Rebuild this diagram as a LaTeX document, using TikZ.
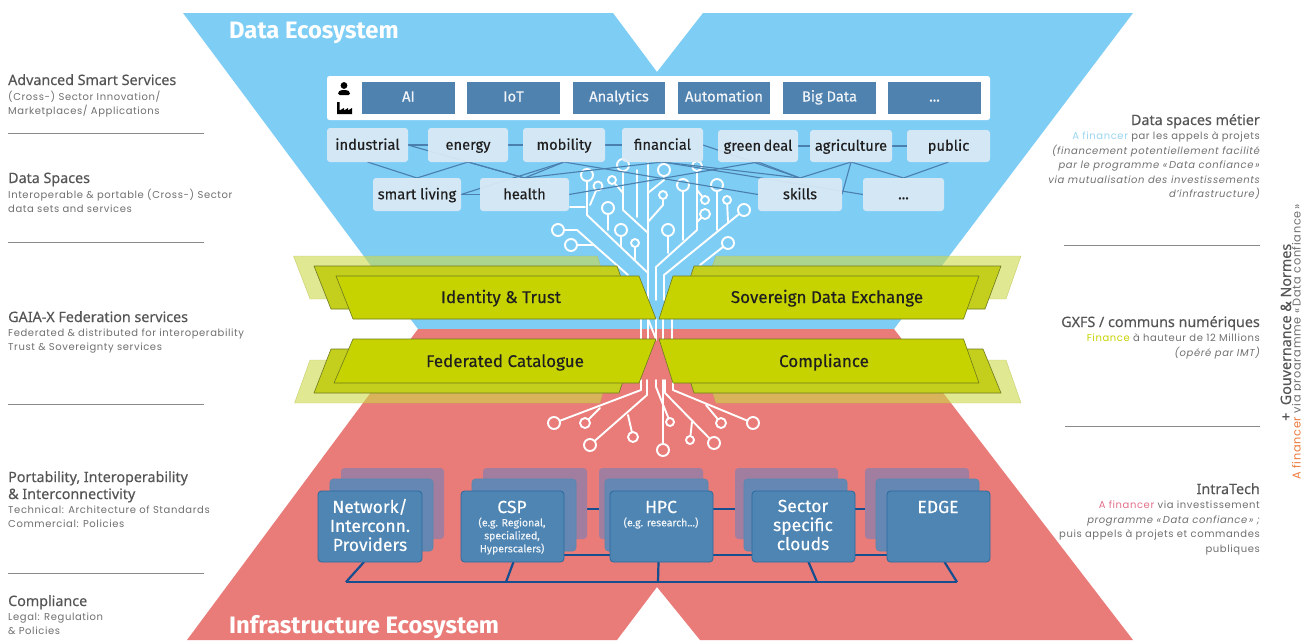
\documentclass[tikz,border=0pt]{standalone}
\usepackage{fontspec}
\setmainfont{Fira Sans}
\newfontfamily\titf[FakeBold=0.25]{Noto Sans}
\newfontfamily\subf[LetterSpace=6]{Poppins}
\newfontfamily\diaf[FakeBold=0.35]{Fira Sans}
\newfontfamily\ecof{Fira Sans}
\pgfdeclarelayer{back}
\pgfdeclarelayer{conn}
\pgfsetlayers{back,conn,main}
\definecolor{bluebg}{HTML}{7ECDF5}
\definecolor{redbg}{HTML}{E97B78}
\definecolor{plateA}{HTML}{C6D300}
\definecolor{plateB}{HTML}{C4CE1C}
\definecolor{plateC}{HTML}{CDD94A}
\definecolor{plateE}{HTML}{6E7A20}
\definecolor{tile}{HTML}{4F82AE}
\definecolor{pale}{HTML}{DCEAF5}
\definecolor{conline}{HTML}{4A7FAE}
\definecolor{bus}{HTML}{154F8F}
\definecolor{boxA}{HTML}{4E85B3}
\definecolor{boxB}{HTML}{6487B4}
\definecolor{boxC}{HTML}{A17D9F}
\definecolor{boxE}{HTML}{2A6A9E}
\definecolor{greytx}{HTML}{707070}
\definecolor{titletx}{HTML}{555555}
\definecolor{rulec}{HTML}{8A8A8A}
\definecolor{finblue}{HTML}{9BD6F2}
\definecolor{fingreen}{HTML}{C6D300}
\definecolor{finred}{HTML}{E4708A}
\definecolor{finorange}{HTML}{EE7B3C}
\tikzset{
  plA/.style={fill=plateA,draw=plateE,line width=.6pt,line join=round},
  plB/.style={fill=plateB,draw=plateE,line width=.6pt,line join=round},
  plC/.style={fill=plateC,draw=plateC!85!black,fill opacity=.6,draw opacity=.6,line width=.4pt,line join=round},
  platetxt/.style={font=\diaf\fontsize{17}{18}\selectfont,text=black!88,inner sep=0pt,text height=12pt,text depth=4pt},
  tilebox/.style={fill=tile,inner sep=0pt,outer sep=0pt,font=\diaf\fontsize{14.7}{16}\selectfont,text=white!92!tile,text height=10.5pt,text depth=3pt},
  whitebar/.style={fill=white,rounded corners=2.5pt,inner sep=0pt,outer sep=0pt},
  palebox/.style={fill=pale,fill opacity=.92,rounded corners=3pt,inner sep=0pt,outer sep=0pt,text opacity=1,font=\diaf\fontsize{14.7}{17}\selectfont,text=black!88,text height=12pt,text depth=2.5pt},
  con/.style={draw=conline,line width=1.1pt},
  buswire/.style={draw=bus,line width=2.2pt,line join=miter},
  fr/.style={fill=boxA,draw=boxE,line width=.8pt,rounded corners=3.5pt,inner sep=0pt,outer sep=0pt},
  ba/.style={fill=boxB,draw=boxE!80,line width=.6pt,rounded corners=3.5pt,inner sep=0pt,outer sep=0pt},
  bb/.style={fill=boxC,rounded corners=3.5pt,inner sep=0pt,outer sep=0pt},
  boxtx/.style={font=\diaf\fontsize{17.5}{19}\selectfont,text=white,align=center,inner sep=0pt},
  boxsm/.style={font=\diaf\fontsize{10.5}{13}\selectfont,text=white!90!boxA,align=center,inner sep=0pt},
  eco/.style={font=\ecof\fontsize{23.8}{26}\selectfont\bfseries,text=white,anchor=base west,inner sep=0pt},
  lt/.style={anchor=base west,inner sep=0pt,font=\titf\fontsize{14.3}{16}\selectfont,text=titletx},
  ls/.style={anchor=base west,inner sep=0pt,font=\subf\fontsize{10}{12}\selectfont,text=greytx},
  rt/.style={anchor=base east,inner sep=0pt,font=\titf\fontsize{14.3}{16}\selectfont,text=titletx},
  rs/.style={anchor=base east,inner sep=0pt,font=\subf\fontsize{10}{12}\selectfont,text=greytx},
  rulel/.style={draw=rulec,line width=.9pt},
  tr/.style={draw=white,line width=1.9pt,line join=round,line cap=round},
}
\newcommand\bx[6]{\node[#6,minimum width={(#4-#2)*1pt},minimum height={(#5-#3)*1pt}] (#1) at ({(#2+#4)/2},{(#3+#5)/2}) {};}
\newcommand\tb[7]{\node[#6,minimum width={(#4-#2)*1pt},minimum height={(#5-#3)*1pt}] (#1) at ({(#2+#4)/2},{(#3+#5)/2}) {#7};}
\newcommand\lfb[4]{\draw[tr] #1 -- (#2,#3); \draw[tr,fill=bluebg] (#2,#3) circle (#4pt);}
\newcommand\lfr[4]{\draw[tr] #1 -- (#2,#3); \draw[tr,fill=redbg] (#2,#3) circle (#4pt);}
\begin{document}
\begin{tikzpicture}[x=1pt,y=-1pt]
\useasboundingbox (0,0) rectangle (1301,640);
\clip (0,0) rectangle (1301,640);
\begin{pgfonlayer}{back}
\fill[white] (0,0) rectangle (1301,640);
% ecosystems
\fill[bluebg] (183,13) -- (613,13) -- (657,72) -- (703,13) -- (1133,13) -- (894,329) -- (418,329) -- cycle;
\fill[redbg] (418,329) -- (894,329) -- (1133,640) -- (700,640) -- (657,587) -- (617,640) -- (187,640) -- cycle;
% tree, blue part
\draw[tr] (648,300) -- (648,163);
\lfb{(648,273) -- (587,215)}{587}{175}{6}
\draw[tr] (585,207) -- (570,207);
\lfb{(590,205)}{598}{186}{4.5}
\lfb{(608,230)}{608}{208}{6}
\lfb{(621,247)}{621}{230}{6}
\lfb{(635,260)}{635}{243}{4}
\lfb{(648,233) -- (623,210)}{623}{165}{6}
\lfb{(623,193)}{612}{180}{4}
\draw[tr] (637,217) -- (637,170);
\lfb{(628,275) -- (577,230)}{558}{230}{6}
\lfb{(593,245)}{571}{245}{6}
\lfb{(656,300) -- (656,267) -- (697,230)}{697}{166}{5}
\lfb{(697,190)}{705}{200}{4}
\lfb{(697,222)}{705}{214}{5}
\lfb{(683,240)}{683}{185}{6}
\lfb{(668,253)}{668}{230}{6}
\lfb{(664,300) -- (664,275)}{744}{210}{6}
\lfb{(728,222)}{727}{200}{4}
\lfb{(717,230)}{717}{185}{6}
\lfb{(700,265)}{728}{243}{6}
\lfb{(648,222) -- (663,205)}{663}{195}{4}
\lfb{(648,193) -- (664,180)}{664}{170}{6}
% tree, between plates
\draw[tr] (641,319) -- (641,340);
\draw[tr] (648,319) -- (648,340);
\draw[tr] (656,319) -- (656,340);
\draw[tr] (663,319) -- (663,340);
\draw[tr] (672,319) -- (672,340);
\draw[tr] (648,319) -- (656,339);
% tree, red part
\lfr{(641,380) -- (641,390)}{554}{423}{6}
\lfr{(600,408)}{585}{423}{5}
\lfr{(647,380) -- (647,395)}{590}{445}{6}
\lfr{(628,415)}{633}{437}{5}
\lfr{(663,380)}{663}{450}{6}
\lfr{(656,380) -- (656,387)}{670}{422}{4}
\lfr{(665,380) -- (665,393)}{714}{443}{6}
\lfr{(692,422)}{690}{440}{4}
\lfr{(673,380) -- (673,390)}{753}{423}{6}
\lfr{(706,405)}{721}{423}{5}
% plates
\draw[plC] (293.5,256) -- (597.5,256) -- (610,299) -- (310,299) -- cycle;
\draw[plB] (314,266) -- (617,266) -- (632,309) -- (331,309) -- cycle;
\draw[plA] (336,276) -- (639,276) -- (656,319) -- (353,319) -- cycle;
\draw[plC] (1021,256) -- (716,256) -- (700,299) -- (1006,299) -- cycle;
\draw[plB] (1001,266) -- (694,266) -- (680,309) -- (985,309) -- cycle;
\draw[plA] (979,276) -- (673,276) -- (659,319) -- (963.5,319) -- cycle;
\draw[plC] (310,360) -- (612,360) -- (600,403) -- (294.5,403) -- cycle;
\draw[plB] (331,349) -- (634,349) -- (619,393) -- (314,393) -- cycle;
\draw[plA] (353,339) -- (656,339) -- (639,383) -- (334,383) -- cycle;
\draw[plC] (1006,360) -- (702,360) -- (716,403) -- (1021,403) -- cycle;
\draw[plB] (983,349) -- (680,349) -- (694,393) -- (1001,393) -- cycle;
\draw[plA] (963.5,339) -- (659,339) -- (673,383) -- (979,383) -- cycle;
\end{pgfonlayer}
% plate labels
\node[platetxt] (ident) at (501,299) {Identity \& Trust};
\node[platetxt] (sover) at (827,299) {Sovereign Data Exchange};
\node[platetxt] (feder) at (505,363) {Federated Catalogue};
\node[platetxt] (compl) at (824,363) {Compliance};
% ecosystem titles
\node[eco] (dataeco) at (229,38) {Data Ecosystem};
\node[eco] (infraeco) at (229,633) {Infrastructure Ecosystem};
% service bar
\bx{bar}{327}{76}{990}{120}{whitebar}
\tb{ai}{362}{82}{455}{113.5}{tilebox}{AI}
\tb{iot}{467}{82}{560}{113.5}{tilebox}{IoT}
\tb{ana}{573}{82}{665}{113.5}{tilebox}{Analytics}
\tb{auto}{678}{82}{770}{113.5}{tilebox}{Automation}
\tb{big}{783}{82}{876}{113.5}{tilebox}{Big Data}
\tb{more}{888}{82}{981}{113.5}{tilebox}{...}
\fill[black] (344,85.5) circle (3.4pt);
\fill[black,rounded corners=1.5pt] (338,95) -- (338,92) -- (341,90) -- (347,90) -- (350,92) -- (350,95) -- cycle;
\fill[black] (337,102) -- (339.5,102) -- (339.5,110.5) -- (344,108) -- (344,110.5) -- (348,108) -- (348,110.5) -- (352,108) -- (352,114) -- (337,114) -- cycle;
% data spaces
\tb{industrial}{327}{128}{408}{162}{palebox}{industrial}
\tb{energy}{428}{128}{508}{162}{palebox}{energy}
\tb{mobility}{523}{128}{605}{162}{palebox}{mobility}
\tb{financial}{622}{128}{703}{162}{palebox}{financial}
\tb{greendeal}{718}{130}{798}{162}{palebox}{green\,deal}
\tb{agri}{810}{130}{892}{162}{palebox}{agriculture}
\tb{public}{907}{130}{990}{162}{palebox}{public}
\tb{smart}{373}{178}{461}{211}{palebox}{smart living}
\tb{health}{480}{178}{569}{211}{palebox}{health}
\tb{skills}{758}{178}{842}{211}{palebox}{skills}
\tb{dots}{863}{178}{944}{211}{palebox}{...}
\begin{pgfonlayer}{conn}
\draw[con] (industrial.east) -- (energy.west);
\draw[con] (energy.east) -- (mobility.west);
\draw[con] (mobility.east) -- (financial.west);
\draw[con] (greendeal.east) -- (agri.west);
\draw[con] (agri.east) -- (public.west);
\draw[con] (smart.east) -- (health.west);
\draw[con] (industrial.south) -- (smart.north);
\draw[con] (energy.south) -- (smart.north);
\draw[con] (energy.south) -- (health.north);
\draw[con] (industrial.east) -- (health.north);
\draw[con] (mobility.south) -- (health.north);
\draw[con] (smart.east) -- (mobility.south);
\draw[con] (health.east) -- (greendeal.south);
\draw[con] (mobility.south) -- (skills.west);
\draw[con] (financial.south) -- (skills.north);
\draw[con] (financial.east) -- (skills.north);
\draw[con] (greendeal.south) -- (skills.north);
\draw[con] (agri.south) -- (skills.north);
\draw[con] (agri.south) -- (skills.east);
\draw[con] (agri.south) -- (dots.north);
\draw[con] (public.south) -- (dots.north);
\draw[con] (financial.south) -- (dots.west);
\draw[con] (health.north) -- (financial.south);
% infrastructure wiring
\coordinate (busl) at (346,582);
\coordinate (busr) at (957,582);
\coordinate (buscsp) at (506,582);
\coordinate (bushpc) at (658,582);
\coordinate (bussec) at (817,582);
\end{pgfonlayer}
% infrastructure boxes
\bx{netc}{341}{468}{444}{539}{bb}
\bx{netb}{330}{479}{433}{551}{ba}
\bx{net}{318}{491}{422}{562}{fr}
\bx{cspc}{483}{468}{587}{539}{bb}
\bx{cspb}{472}{479}{576}{551}{ba}
\bx{csp}{461}{491}{564}{562}{fr}
\bx{hpcc}{599}{468}{703}{539}{bb}
\bx{hpcb}{605}{479}{708}{551}{ba}
\bx{hpc}{610}{491}{713}{562}{fr}
\bx{secc}{735}{468}{838}{539}{bb}
\bx{secb}{744}{479}{847}{551}{ba}
\bx{sec}{752}{491}{855}{562}{fr}
\bx{edgc}{865}{468}{969}{539}{bb}
\bx{edgb}{876}{479}{979}{551}{ba}
\bx{edg}{887}{491}{990}{562}{fr}
\begin{pgfonlayer}{conn}
\draw[buswire] (busl) -- (busr);
\draw[buswire] ([xshift=-6pt]net.south) -- (busl);
\draw[buswire] ([xshift=1pt]csp.south) -- (buscsp);
\draw[buswire] ([xshift=-3pt]hpc.south) -- (bushpc);
\draw[buswire] ([xshift=5pt]sec.south) -- (bussec);
\draw[buswire] ([xshift=6pt]edg.south) -- (busr);
\draw[buswire] ([yshift=-28.5pt]csp.east) -- ([yshift=-28.5pt]hpc.west);
\draw[buswire] ([yshift=17.5pt]csp.east) -- ([yshift=17.5pt]hpc.west);
\draw[buswire] ([yshift=-28.5pt]hpc.east) -- ([yshift=-28.5pt]sec.west);
\draw[buswire] ([yshift=17.5pt]hpc.east) -- ([yshift=17.5pt]sec.west);
\draw[buswire] ([yshift=-28.5pt]sec.east) -- ([yshift=-28.5pt]edg.west);
\draw[buswire] ([yshift=17.5pt]sec.east) -- ([yshift=17.5pt]edg.west);
\end{pgfonlayer}
\node[boxtx] (nett) at (370,525) {Network/\\Interconn.\\Providers};
\node[boxtx] (cspt) at (512,507) {CSP};
\node[boxsm] (csps) at (512,536) {(e.g. Regional,\\specialized,\\Hyperscalers)};
\node[boxtx] (hpct) at (661,507) {HPC};
\node[boxsm] (hpcs) at (661,523) {(e.g. research...)};
\node[boxtx] (sect) at (803,525) {Sector\\specific\\clouds};
\node[boxtx] (edgt) at (938,507) {EDGE};
% left column
\node[lt] (l1) at (8,85) {Advanced Smart Services};
\node[ls] (l1a) at (8,100) {(Cross-) Sector Innovation/};
\node[ls] (l1b) at (8,114) {Marketplaces/ Applications};
\draw[rulel] (8,133) -- (204,133);
\node[lt] (l2) at (8,183) {Data Spaces};
\node[ls] (l2a) at (8,198) {Interoperable \& portable (Cross-) Sector};
\node[ls] (l2b) at (8,212) {data sets and services};
\draw[rulel] (8,242) -- (204,242);
\node[lt] (l3) at (8,322) {GAIA-X Federation services};
\node[ls] (l3a) at (8,336) {Federated \& distributed for interoperability};
\node[ls] (l3b) at (8,350) {Trust \& Sovereignty services};
\draw[rulel] (8,404) -- (204,404);
\node[lt] (l4) at (8,482) {Portability, Interoperability};
\node[lt] (l4x) at (8,499) {\& Interconnectivity};
\node[ls] (l4a) at (8,513) {Technical: Architecture of Standards};
\node[ls] (l4b) at (8,527) {Commercial: Policies};
\draw[rulel] (8,573) -- (204,573);
\node[lt] (l5) at (8,606) {Compliance};
\node[ls] (l5a) at (8,620) {Legal: Regulation};
\node[ls] (l5b) at (8,634) {\& Policies};
% right column
\node[rt] (r1) at (1260,125) {Data spaces métier};
\node[rs] (r1a) at (1260,139) {\textcolor{finblue}{A financer} par les appels à projets};
\node[rs] (r1b) at (1260,154) {\itshape (financement potentiellement facilité};
\node[rs] (r1c) at (1260,168) {\itshape par le programme «\,Data confiance\,»};
\node[rs] (r1d) at (1260,183) {\itshape via mutualisation des investissements};
\node[rs] (r1e) at (1260,197) {\itshape d’infrastructure)};
\draw[rulel] (1064,245) -- (1260,245);
\node[rt] (r2) at (1260,327) {GXFS / communs numériques};
\node[rs] (r2a) at (1260,341) {\textcolor{fingreen}{Finance} à hauteur de 12 Millions};
\node[rs] (r2b) at (1260,356) {\itshape (opéré par IMT)};
\draw[rulel] (1065,426) -- (1260,426);
\node[rt] (r3) at (1260,494) {IntraTech};
\node[rs] (r3a) at (1260,508) {\textcolor{finred}{A financer} via investissement};
\node[rs] (r3b) at (1260,523) {\itshape programme «\,Data confiance\,» ;};
\node[rs] (r3c) at (1260,537) {puis appels à projets et commandes};
\node[rs] (r3d) at (1260,552) {publiques};
% rotated margin
\node[rt,rotate=90,anchor=base west] (g1) at (1291,421) {+ \ Gouvernance \& Normes};
\node[rs,rotate=90,anchor=base west,font=\subf\fontsize{11.3}{12}\selectfont] (g2) at (1300.5,480) {\textcolor{finorange}{A financer} via programme «\,Data confiance\,»};
\end{tikzpicture}
\end{document}
